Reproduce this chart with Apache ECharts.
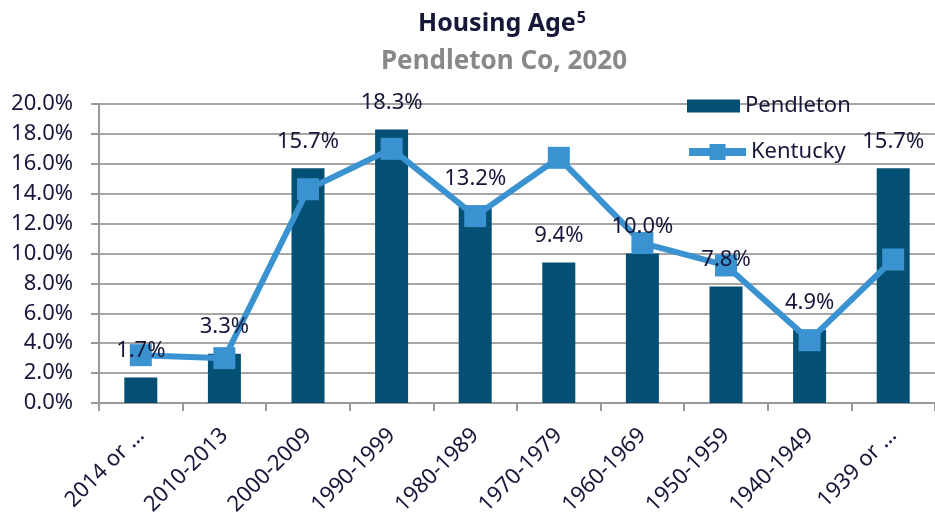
<!DOCTYPE html>
<html>
<head>
<meta charset="utf-8">
<script src="https://cdn.jsdelivr.net/npm/echarts@6/dist/echarts.min.js"></script>
<style>
  html, body { margin: 0; padding: 0; background: #fff; }
  #chart { width: 935px; height: 521px; }
</style>
</head>
<body>
<div id="chart"></div>
<script>
// categories and values
const categories = ['2014 or …', '2010-2013', '2000-2009', '1990-1999', '1980-1989',
  '1970-1979', '1960-1969', '1950-1959', '1940-1949', '1939 or …'];
const pendleton = [1.7, 3.3, 15.7, 18.3, 13.2, 9.4, 10.0, 7.8, 4.9, 15.7];
const kentucky = [3.2, 3.0, 14.3, 17.0, 12.5, 16.4, 10.7, 9.2, 4.2, 9.6];

const font = 'Noto Sans';
const textColor = '#17173a';
const barColor = '#044f74';
const lineColor = '#3a93d0';

const chart = echarts.init(document.getElementById('chart'));

const option = {
  animation: false,
  textStyle: { fontFamily: font },
  title: [
    {
      text: '{t|Housing Age}{s|5}',
      left: 497,
      textAlign: 'center',
      top: 5,
      textStyle: {
        rich: {
          t: { fontFamily: font, fontSize: 25, fontWeight: 'bold', color: textColor },
          s: { fontFamily: font, fontSize: 16, fontWeight: 'bold', color: textColor, verticalAlign: 'top', padding: [0, 0, 12, 1] }
        }
      }
    },
    {
      text: 'Pendleton Co, 2020',
      left: 499,
      textAlign: 'center',
      top: 44,
      textStyle: { fontFamily: font, fontSize: 26, fontWeight: 'bold', color: '#888888' }
    }
  ],
  legend: [
    {
      data: ['Pendleton'],
      left: 687,
      top: 95,
      padding: 0,
      icon: 'rect',
      itemWidth: 53,
      itemHeight: 13,
      textStyle: { fontSize: 22, color: textColor, fontFamily: font }
    },
    {
      data: ['Kentucky'],
      left: 685,
      top: 141,
      padding: 0,
      itemWidth: 57,
      itemHeight: 20,
      lineStyle: { width: 8 },
      textStyle: { fontSize: 22, color: textColor, fontFamily: font }
    }
  ],
  grid: {
    left: 99,
    right: -6,
    top: 104,
    bottom: 118,
    containLabel: false
  },
  xAxis: {
    type: 'category',
    data: categories,
    axisLine: { lineStyle: { color: '#999', width: 2 } },
    axisTick: { show: true, length: 8, lineStyle: { color: '#999', width: 2 } },
    axisLabel: {
      rotate: 45,
      interval: 0,
      fontSize: 22,
      color: textColor,
      margin: 29,
      fontFamily: font
    }
  },
  yAxis: {
    type: 'value',
    min: 0,
    max: 20,
    interval: 2,
    axisLine: { show: true, lineStyle: { color: '#999', width: 2 } },
    axisTick: { show: true, inside: false, length: 8, lineStyle: { color: '#999', width: 2 } },
    axisLabel: {
      fontSize: 22,
      color: textColor,
      margin: 26,
      fontFamily: font,
      formatter: v => v.toFixed(1) + '%'
    },
    splitLine: { show: true, lineStyle: { color: '#a6a6a6', width: 2 } }
  },
  series: [
    {
      name: 'Pendleton',
      type: 'bar',
      data: pendleton,
      barWidth: 33,
      itemStyle: { color: barColor },
      z: 2
    },
    {
      name: 'Kentucky',
      type: 'line',
      data: kentucky,
      symbol: 'rect',
      symbolSize: 22,
      lineStyle: { color: lineColor, width: 6 },
      itemStyle: { color: lineColor },
      z: 3
    },
    {
      // invisible copy of the bars that carries the value labels above the line
      name: 'labels',
      type: 'bar',
      data: pendleton,
      barWidth: 33,
      barGap: '-100%',
      silent: true,
      itemStyle: { color: 'rgba(0,0,0,0)' },
      label: {
        show: true,
        position: 'top',
        distance: 16,
        fontSize: 22,
        color: textColor,
        fontFamily: font,
        formatter: p => p.value.toFixed(1) + '%'
      },
      z: 5
    }
  ]
};

chart.setOption(option);
</script>
</body>
</html>
